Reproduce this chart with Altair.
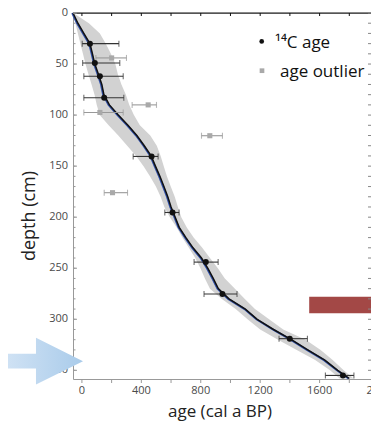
import altair as alt
import pandas as pd

# ---------------- data ----------------
model_depth = [0, 10, 20, 30, 40, 50, 60, 70, 80, 90, 100, 110, 120, 130, 140, 150, 160, 170, 180,
               190, 200, 210, 220, 230, 240, 250, 260, 270, 280, 290, 300, 310, 320, 330, 340, 350, 358]
model_age = [-60, -27, 13, 54, 71, 87, 111, 134, 148, 185, 245, 310, 370, 420, 466, 495, 525, 552, 578,
             600, 628, 655, 700, 748, 805, 847, 884, 918, 990, 1100, 1180, 1290, 1410, 1520, 1635, 1722, 1800]
band_lo = [-62, -44, -27, -10, 7, 24, 44, 65, 85, 100, 120, 180, 245, 305, 365, 415, 458, 498, 530,
           555, 592, 638, 676, 720, 763, 798, 828, 862, 940, 1035, 1115, 1200, 1320, 1446, 1570, 1670, 1735]
band_hi = [-58, 47, 121, 161, 195, 225, 242, 266, 296, 319, 350, 390, 460, 504, 530, 551, 572, 598, 625,
           646, 669, 706, 752, 810, 862, 915, 962, 1030, 1095, 1165, 1260, 1355, 1506, 1607, 1688, 1762, 1829]

c14_depth = [30, 49, 62, 83, 140.5, 195.4, 244, 275.3, 319, 355]
c14_age = [54, 87, 121, 150, 469, 610, 834, 946, 1399, 1757]
c14_lo = [2, 5, 13, 13, 345, 558, 755, 822, 1327, 1639]
c14_hi = [249, 255, 278, 282, 513, 654, 917, 1044, 1518, 1831]

out_depth = [44, 90, 97.4, 120.2, 176]
out_age = [200, 446, 121, 861, 206]
out_lo = [94, 338, 13, 805, 150]
out_hi = [300, 502, 278, 946, 307]

hiatus_age = [1530, 2100]
hiatus_depth = [278, 294]

arrow_depth = [341]

x_ticks = list(range(0, 2001, 200))
x_labels = list(range(0, 2001, 400))
y_ticks = list(range(0, 351, 10))
y_labels = list(range(0, 351, 50))

x_title = "age (cal a BP)"
y_title = "depth (cm)"
legend_labels = ["\u00b9\u2074C age", "age outlier"]

# ---------------- tables ----------------
model_df = pd.DataFrame({"depth": model_depth, "age": model_age})
band_df = pd.DataFrame({"depth": model_depth, "lo": band_lo, "hi": band_hi})
c14_df = pd.DataFrame({"depth": c14_depth, "age": c14_age, "lo": c14_lo, "hi": c14_hi})
out_df = pd.DataFrame({"depth": out_depth, "age": out_age, "lo": out_lo, "hi": out_hi})
hiatus_df = pd.DataFrame({"a1": [hiatus_age[0]], "a2": [hiatus_age[1]],
                          "d1": [hiatus_depth[0]], "d2": [hiatus_depth[1]]})
arrow_df = pd.DataFrame({"depth": arrow_depth})
xt_df = pd.DataFrame({"age": x_ticks})
xl_df = pd.DataFrame({"age": x_labels, "lab": [str(v) for v in x_labels]})
yt_df = pd.DataFrame({"depth": y_ticks})
yl_df = pd.DataFrame({"depth": y_labels, "lab": [str(v) for v in y_labels]})
one = pd.DataFrame({"a": [0]})

W, H = 298, 366
FONT = "Open Sans"
AXC = "#999"
LABC = "#4a4a4a"
xscale = alt.Scale(domain=[-60, 1946], nice=False, zero=False)
yscale = alt.Scale(domain=[0, 358.5], nice=False, zero=False, reverse=True)


def X(f):
    return alt.X(f, scale=xscale, axis=None)


def Y(f):
    return alt.Y(f, scale=yscale, axis=None)


band = alt.Chart(band_df).mark_area(orient="horizontal", color="#d2d2d2", opacity=1).encode(
    y=Y("depth:Q"), x=X("lo:Q"), x2="hi:Q")

blue_line = alt.Chart(model_df).mark_line(color="#2f4fa8", strokeWidth=2, xOffset=-0.8).encode(
    x=X("age:Q"), y=Y("depth:Q"), order=alt.Order("depth:Q"))
black_line = alt.Chart(model_df).mark_line(color="#111", strokeWidth=1.5).encode(
    x=X("age:Q"), y=Y("depth:Q"), order=alt.Order("depth:Q"))


def errbars(df, color):
    rule = alt.Chart(df).mark_rule(color=color, strokeWidth=1.1).encode(
        x=X("lo:Q"), x2="hi:Q", y=Y("depth:Q"))
    cap1 = alt.Chart(df).mark_tick(orient="vertical", color=color, size=6, thickness=1.1).encode(
        x=X("lo:Q"), y=Y("depth:Q"))
    cap2 = alt.Chart(df).mark_tick(orient="vertical", color=color, size=6, thickness=1.1).encode(
        x=X("hi:Q"), y=Y("depth:Q"))
    return [rule, cap1, cap2]


out_pts = alt.Chart(out_df).mark_square(size=26, color="#a9a9a9", opacity=1).encode(
    x=X("age:Q"), y=Y("depth:Q"))
c14_pts = alt.Chart(c14_df).mark_circle(size=36, color="#111", opacity=1).encode(
    x=X("age:Q"), y=Y("depth:Q"))

hiatus = alt.Chart(hiatus_df).mark_rect(color="#a34846").encode(
    x=X("a1:Q"), x2="a2:Q", y=Y("d1:Q"), y2="d2:Q")

arrow_path = ("M -1 -0.18 L -0.133 -0.18 L -0.133 -0.566 L 1 0 L -0.133 0.566 "
              "L -0.133 0.18 L -1 0.18 Z")
arrow = alt.Chart(arrow_df).mark_point(
    shape=arrow_path, size=83 * 83, filled=True, strokeWidth=0, opacity=1,
    fill=alt.Gradient(gradient="linear", x1=0, x2=1, y1=0, y2=0,
                      stops=[alt.GradientStop(color="#d3e4f5", offset=0),
                             alt.GradientStop(color="#a9cbea", offset=1)]),
).encode(x=alt.value(-31.5), y=Y("depth:Q"))

# ---- frame / axes built from the scales ----
top_line = alt.Chart(one).mark_rule(color="#111", strokeWidth=1.2).encode(
    x=alt.value(0), x2=alt.value(W), y=alt.value(0))
top_ticks = alt.Chart(xt_df).mark_rule(color="#111", strokeWidth=1).encode(
    x=X("age:Q"), y=alt.value(0), y2=alt.value(3))
right_ticks = alt.Chart(yt_df).mark_rule(color="#888", strokeWidth=1).encode(
    y=Y("depth:Q"), x=alt.value(W - 3), x2=alt.value(W))
left_ticks = alt.Chart(yt_df).mark_rule(color=AXC, strokeWidth=1).encode(
    y=Y("depth:Q"), x=alt.value(0), x2=alt.value(2.5))
left_major = alt.Chart(yl_df).mark_rule(color=AXC, strokeWidth=1).encode(
    y=Y("depth:Q"), x=alt.value(0), x2=alt.value(4))
left_labels = alt.Chart(yl_df).mark_text(
    align="right", baseline="middle", font=FONT, fontSize=11, color=LABC).encode(
    y=Y("depth:Q"), x=alt.value(-5), text="lab:N")
bottom_ticks = alt.Chart(xt_df).mark_rule(color=AXC, strokeWidth=1).encode(
    x=X("age:Q"), y=alt.value(H), y2=alt.value(H + 4))
bottom_labels = alt.Chart(xl_df).mark_text(
    align="center", baseline="top", font=FONT, fontSize=11, color=LABC).encode(
    x=X("age:Q"), y=alt.value(H + 6), text="lab:N")
x_title_mark = alt.Chart(pd.DataFrame({"t": [x_title]})).mark_text(
    align="center", baseline="alphabetic", font=FONT, fontSize=17, color="#222").encode(
    x=alt.value(147), y=alt.value(H + 37.5), text="t:N")
y_title_mark = alt.Chart(pd.DataFrame({"t": [y_title]})).mark_text(
    align="center", baseline="top", angle=270, font=FONT, fontSize=18, color="#222").encode(
    x=alt.value(-52), y=alt.value(203), text="t:N")

leg_dot = alt.Chart(one).mark_circle(size=22, color="#111", opacity=1).encode(
    x=alt.value(188.7), y=alt.value(28.4))
leg_sq = alt.Chart(one).mark_square(size=22, color="#a9a9a9", opacity=1).encode(
    x=alt.value(189), y=alt.value(57.7))
leg_t1 = alt.Chart(pd.DataFrame({"t": [legend_labels[0]]})).mark_text(
    align="left", baseline="alphabetic", font=FONT, fontSize=17, color="#111").encode(
    text="t:N", x=alt.value(202), y=alt.value(35))
leg_t2 = alt.Chart(pd.DataFrame({"t": [legend_labels[1]]})).mark_text(
    align="left", baseline="alphabetic", font=FONT, fontSize=17, color="#111").encode(
    text="t:N", x=alt.value(207), y=alt.value(64))

layers = ([band, blue_line, black_line] + errbars(out_df, "#999") + errbars(c14_df, "#333") +
          [out_pts, c14_pts, hiatus, top_line, top_ticks, right_ticks, left_ticks, left_major,
           left_labels, bottom_ticks, bottom_labels, x_title_mark, y_title_mark,
           leg_dot, leg_sq, leg_t1, leg_t2, arrow])

chart = alt.layer(*layers).properties(
    width=W, height=H,
    padding={"left": 65, "top": 5, "right": 0, "bottom": 43},
    autosize=alt.AutoSizeParams(type="none"),
).configure_view(stroke=AXC, strokeWidth=1)

chart.save("out.html", embed_options={"renderer": "svg", "actions": False})
